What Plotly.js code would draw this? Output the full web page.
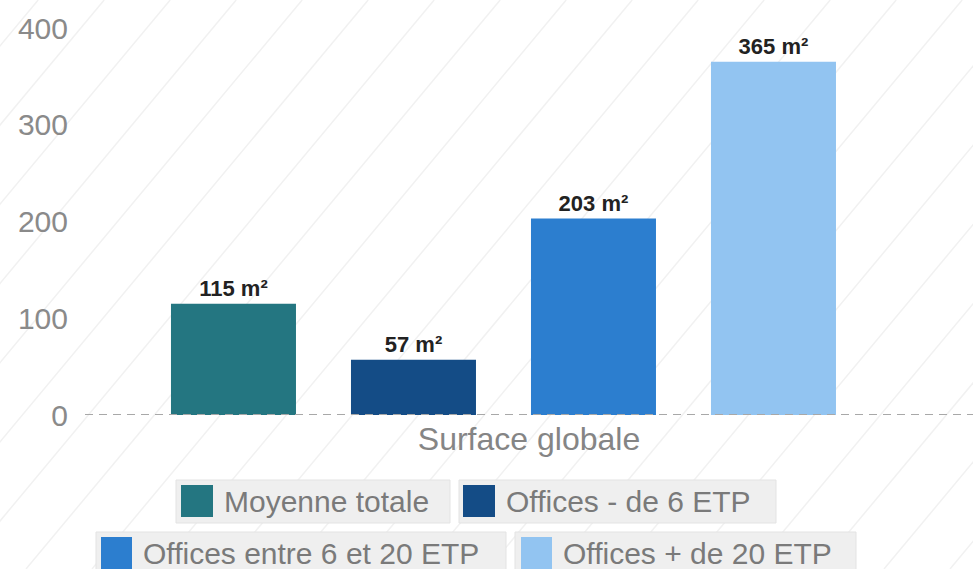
<!DOCTYPE html>
<html>
<head>
<meta charset="utf-8">
<script src="https://cdn.plot.ly/plotly-3.0.1.min.js"></script>
<style>html,body{margin:0;padding:0;background:#fff;}#chart{width:973px;height:569px;}</style>
</head>
<body>
<div id="chart"></div>
<script>
// ---- data ----
const category = ['Surface globale'];
const seriesNames = ['Moyenne totale', 'Offices - de 6 ETP', 'Offices entre 6 et 20 ETP', 'Offices + de 20 ETP'];
const seriesValues = [115, 57, 203, 365];
const seriesColors = ['#247681', '#144c86', '#2c7ecf', '#92c4f1'];
const yTicks = [0, 100, 200, 300, 400];

// ---- geometry helpers (pixel -> paper) ----
const W = 973, H = 569, ML = 85, MR = 0, MT = 28, MB = 154;
const PW = W - ML - MR, PH = H - MT - MB;
const px = x => (x - ML) / PW;
const py = y => (H - MB - y) / PH;

const FONT = 'Arial, "Liberation Sans", sans-serif';

const traces = seriesNames.map((name, i) => ({
  type: 'bar',
  name: name,
  x: category,
  y: [seriesValues[i]],
  marker: {color: seriesColors[i]},
  texttemplate: '%{y} m²',
  textposition: 'outside',
  constraintext: 'none',
  cliponaxis: false,
  textfont: {family: FONT, size: 22, color: '#222222', weight: 'bold'},
  hoverinfo: 'skip',
  showlegend: false
}));

const shapes = [];
const annotations = [];

// faint diagonal background stripes
for (let x0 = -700; x0 < W + 100; x0 += 66) {
  shapes.push({type: 'line', xref: 'paper', yref: 'paper', layer: 'below',
    x0: px(x0), y0: py(H), x1: px(x0 + H / 1.2), y1: py(0),
    line: {color: '#f1f1f1', width: 1.5}});
}

// dashed zero line
shapes.push({type: 'line', xref: 'paper', yref: 'y', layer: 'above',
  x0: 0, x1: 1, y0: 0, y1: 0, line: {color: '#a8a8a8', width: 2, dash: '8px,6px'}});

// custom legend boxes
const legendPos = [
  {box: [176, 480, 450, 523], sw: [181, 485, 213, 517], tx: 222, ty: 501},
  {box: [459, 480, 776, 523], sw: [463, 485, 495, 517], tx: 504, ty: 501},
  {box: [96, 532, 506, 580], sw: [101, 537, 132, 569], tx: 141, ty: 553},
  {box: [515, 532, 856, 580], sw: [521, 537, 552, 569], tx: 561, ty: 553}
];
seriesNames.forEach((name, i) => {
  const p = legendPos[i];
  shapes.push({type: 'rect', xref: 'paper', yref: 'paper', layer: 'above',
    x0: px(p.box[0]), x1: px(p.box[2]), y0: py(p.box[3]), y1: py(p.box[1]),
    fillcolor: '#efefef', line: {color: '#e3e3e3', width: 1}});
  shapes.push({type: 'rect', xref: 'paper', yref: 'paper', layer: 'above',
    x0: px(p.sw[0]), x1: px(p.sw[2]), y0: py(p.sw[3]), y1: py(p.sw[1]),
    fillcolor: seriesColors[i], line: {width: 0}});
  annotations.push({xref: 'paper', yref: 'paper', x: px(p.tx), y: py(p.ty),
    xanchor: 'left', yanchor: 'middle', showarrow: false, text: name,
    font: {family: FONT, size: 30, color: '#7a7a7a'}});
});

const layout = {
  width: W, height: H,
  margin: {l: ML, r: MR, t: MT, b: MB, pad: 0},
  paper_bgcolor: '#ffffff', plot_bgcolor: 'rgba(0,0,0,0)',
  barmode: 'group', bargap: 0.1, bargroupgap: 0.3056,
  showlegend: false,
  font: {family: FONT},
  xaxis: {
    type: 'category', range: [-0.5231, 0.5869], showticklabels: false,
    showgrid: false, zeroline: false, showline: false, ticks: '', fixedrange: true,
    automargin: false,
    title: {text: 'Surface globale', font: {family: FONT, size: 32, color: '#858585'}, standoff: 12}
  },
  yaxis: {
    range: [0, 400], tickvals: yTicks, ticktext: yTicks.map(String),
    showgrid: false, zeroline: false, showline: false, ticks: '',
    tickfont: {family: FONT, size: 30, color: '#8a8a8a'},
    ticklabelstandoff: 16, automargin: false, fixedrange: true
  },
  shapes: shapes,
  annotations: annotations
};

Plotly.newPlot('chart', traces, layout, {displayModeBar: false, staticPlot: true});
</script>
</body>
</html>
